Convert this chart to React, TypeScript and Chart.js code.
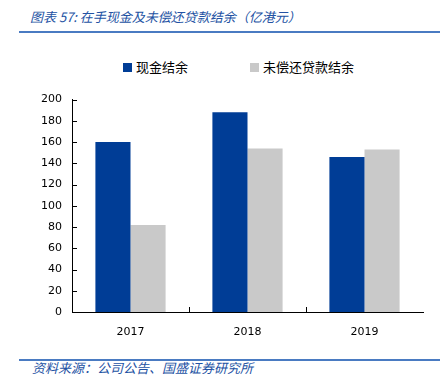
import React, { useEffect, useRef } from "react";
import { Chart, registerables } from "chart.js";

Chart.register(...registerables);

const categories = ["2017", "2018", "2019"];
const seriesNames = ["现金结余", "未偿还贷款结余"];
const cashBalance = [160, 188, 146];
const loanBalance = [82, 154, 153];
const yTicks = [0, 20, 40, 60, 80, 100, 120, 140, 160, 180, 200];
const seriesColors = ["#003D96", "#C9C9C9"];

const titleText = "图表 57:  在手现金及未偿还贷款结余（亿港元）";
const sourceText = "资料来源：公司公告、国盛证券研究所";

const innerTicks = {
  id: "innerTicks",
  afterDraw(chart: any) {
    const ctx = chart.ctx;
    const area = chart.chartArea;
    const ys = chart.scales.y;
    const xs = chart.scales.x;
    ctx.save();
    ctx.strokeStyle = "#000";
    ctx.lineWidth = 1;
    ctx.beginPath();
    ys.ticks.forEach((t: any) => {
      const py = Math.round(ys.getPixelForValue(t.value)) + 0.5;
      ctx.moveTo(area.left, py);
      ctx.lineTo(area.left + 5, py);
    });
    for (let i = 1; i < categories.length; i++) {
      const px = Math.round((xs.getPixelForTick(i - 1) + xs.getPixelForTick(i)) / 2) + 0.5;
      ctx.moveTo(px, area.bottom);
      ctx.lineTo(px, area.bottom - 5);
    }
    ctx.stroke();
    ctx.restore();
  },
};

export default function App() {
  const ref = useRef<HTMLCanvasElement | null>(null);

  useEffect(() => {
    document.body.style.margin = "0";
    const canvas = ref.current;
    if (!canvas) return;
    const chart = new Chart(canvas, {
      type: "bar",
      data: {
        labels: categories,
        datasets: [
          { label: seriesNames[0], data: cashBalance, backgroundColor: seriesColors[0] },
          { label: seriesNames[1], data: loanBalance, backgroundColor: seriesColors[1] },
        ],
      },
      options: {
        responsive: false,
        animation: false,
        devicePixelRatio: 1,
        layout: { padding: { top: 2, right: 17, left: 0, bottom: 0 } },
        datasets: { bar: { categoryPercentage: 0.6, barPercentage: 1 } },
        plugins: { legend: { display: false }, tooltip: { enabled: false } },
        scales: {
          x: {
            grid: { display: false, drawTicks: false },
            border: { display: true, color: "#000", width: 1 },
            ticks: { color: "#000", padding: 14, font: { family: "DejaVu Sans", size: 11 } },
            afterFit(axis: any) {
              axis.height = 33;
            },
          },
          y: {
            min: 0,
            max: 200,
            afterBuildTicks(axis: any) {
              axis.ticks = yTicks.map((v) => ({ value: v }));
            },
            grid: { display: false, drawTicks: false },
            border: { display: true, color: "#000", width: 1 },
            ticks: { color: "#000", padding: 10, font: { family: "DejaVu Sans", size: 11 } },
            afterFit(axis: any) {
              axis.width = 72;
            },
          },
        },
      },
      plugins: [innerTicks],
    } as any);
    return () => chart.destroy();
  }, []);

  const textStyle: React.CSSProperties = {
    position: "absolute",
    fontFamily: "'Noto Sans CJK SC', sans-serif",
    fontStyle: "italic",
    fontSize: 13,
    color: "#2352A3",
    whiteSpace: "nowrap",
    lineHeight: "16px",
  };

  return (
    <div style={{ position: "relative", width: 440, height: 392, background: "#fff", overflow: "hidden" }}>
      <div style={{ ...textStyle, left: 30, top: 9 }}>{titleText}</div>
      <div style={{ position: "absolute", left: 19, top: 31, width: 421, height: 2, background: "#4A7BC2" }} />
      <div style={{ position: "absolute", left: 123, top: 59, display: "flex" }}>
        {seriesNames.map((n, i) => (
          <div key={n} style={{ width: 127, display: "flex", alignItems: "center", height: 16 }}>
            <span style={{ display: "inline-block", width: 9, height: 9, background: seriesColors[i], marginRight: 4 }} />
            <span style={{ fontFamily: "'Noto Sans CJK SC', sans-serif", fontSize: 13, color: "#000", lineHeight: "16px" }}>{n}</span>
          </div>
        ))}
      </div>
      <canvas ref={ref} width={440} height={262} style={{ position: "absolute", left: 0, top: 83 }} />
      <div style={{ position: "absolute", left: 19, top: 359, width: 421, height: 2, background: "#4A7BC2" }} />
      <div style={{ ...textStyle, left: 32, top: 360 }}>{sourceText}</div>
    </div>
  );
}
